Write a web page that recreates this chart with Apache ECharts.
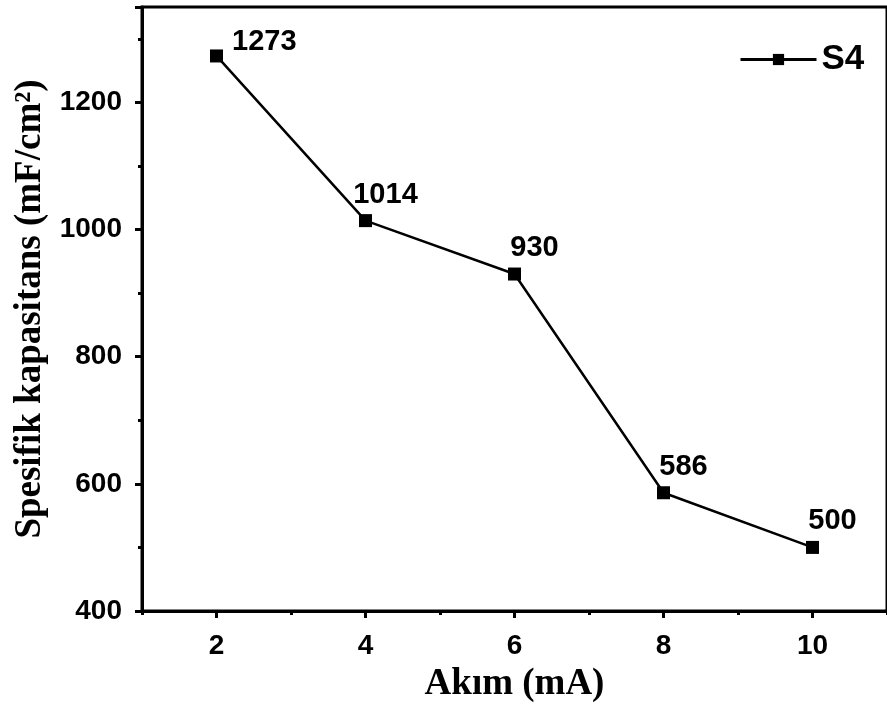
<!DOCTYPE html>
<html>
<head>
<meta charset="utf-8">
<script src="https://cdn.jsdelivr.net/npm/echarts@6/dist/echarts.min.js"></script>
<style>
  html, body { margin: 0; padding: 0; background: #fff; }
  #chart { width: 887px; height: 715px; }
</style>
</head>
<body>
<div id="chart"></div>
<script>
var currents = [2, 4, 6, 8, 10];
var capacitance = [1273, 1014, 930, 586, 500];
var xMajorTicks = [2, 4, 6, 8, 10];
var xMinorTicks = [1, 3, 5, 7, 9, 11];

var myChart = echarts.init(document.getElementById('chart'));

var sans = 'Liberation Sans, Arial, sans-serif';
var serif = 'Liberation Serif, Times New Roman, serif';

var points = currents.map(function (x, i) {
    var item = { value: [x, capacitance[i]] };
    if (i === 0) {
        item.label = { position: 'right', offset: [4, -14] };
    }
    return item;
});

var option = {
    animation: false,
    backgroundColor: '#fff',
    grid: {
        left: 142,
        top: 7,
        width: 749,
        height: 604,
        show: true,
        borderColor: '#000',
        borderWidth: 3
    },
    legend: {
        left: 734,
        top: 37,
        itemWidth: 76,
        itemHeight: 14,
        itemGap: 10,
        lineStyle: { width: 3 },
        textStyle: {
            fontFamily: sans,
            fontWeight: 'bold',
            fontSize: 35,
            color: '#000'
        },
        data: ['S4']
    },
    xAxis: [
        {
            type: 'value',
            min: 1,
            max: 11,
            interval: 1,
            position: 'bottom',
            name: 'Akım (mA)',
            nameLocation: 'middle',
            nameGap: 55,
            nameTextStyle: {
                fontFamily: serif,
                fontWeight: 'bold',
                fontSize: 37,
                color: '#000'
            },
            axisLine: { lineStyle: { color: '#000', width: 3 } },
            axisTick: {
                customValues: xMajorTicks,
                length: 7,
                lineStyle: { color: '#000', width: 3 }
            },
            axisLabel: {
                customValues: xMajorTicks,
                margin: 21,
                fontFamily: sans,
                fontWeight: 'bold',
                fontSize: 28,
                color: '#000'
            },
            splitLine: { show: false }
        },
        {
            type: 'value',
            min: 1,
            max: 11,
            interval: 1,
            position: 'bottom',
            offset: 0,
            axisLine: { show: false },
            axisTick: {
                customValues: xMinorTicks,
                length: 4,
                lineStyle: { color: '#000', width: 3 }
            },
            axisLabel: { show: false },
            splitLine: { show: false }
        }
    ],
    yAxis: {
        type: 'value',
        min: 400,
        max: 1350,
        interval: 200,
        name: 'Spesifik kapasitans (mF/cm²)',
        nameLocation: 'middle',
        nameGap: 93,
        nameTextStyle: {
            fontFamily: serif,
            fontWeight: 'bold',
            fontSize: 37,
            color: '#000'
        },
        axisLine: { show: true, lineStyle: { color: '#000', width: 3 } },
        axisTick: { show: true, length: 7, lineStyle: { color: '#000', width: 3 } },
        minorTick: { show: true, splitNumber: 2, length: 4, lineStyle: { color: '#000', width: 3 } },
        axisLabel: {
            showMaxLabel: false,
            margin: 20,
            fontFamily: sans,
            fontWeight: 'bold',
            fontSize: 28,
            color: '#000',
            formatter: function (v) { return String(v); }
        },
        splitLine: { show: false }
    },
    series: [
        {
            name: 'S4',
            type: 'line',
            symbol: 'rect',
            symbolSize: 13,
            color: '#000',
            lineStyle: { color: '#000', width: 2.5 },
            itemStyle: { color: '#000' },
            label: {
                show: true,
                position: 'top',
                offset: [20, 0],
                fontFamily: sans,
                fontWeight: 'bold',
                fontSize: 29,
                color: '#000'
            },
            data: points
        }
    ]
};

myChart.setOption(option);
</script>
</body>
</html>
